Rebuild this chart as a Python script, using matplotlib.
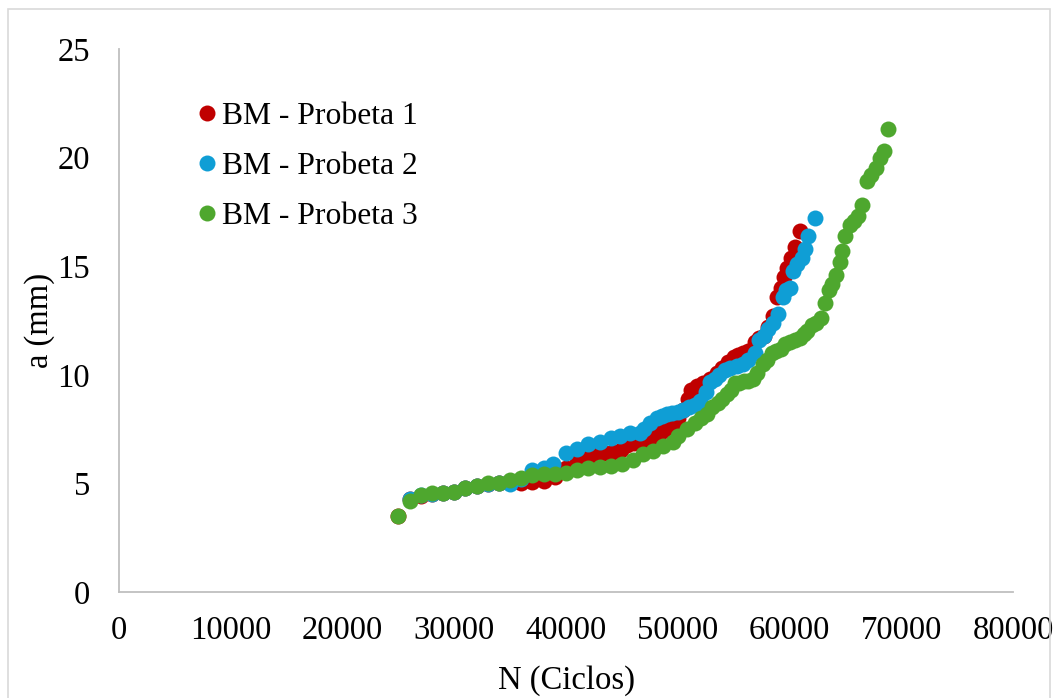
import matplotlib.pyplot as plt
from matplotlib.patches import Rectangle

# ==============================
# DATA
# ==============================
red_N = [25000, 26000, 27000, 28000, 29000, 30000, 31000, 32000, 33000, 34000,
         35000, 36000, 37000, 38000, 39000, 40000, 41000, 42000, 42800, 43500,
         44200, 44900, 45500, 46100, 46600, 47200, 47800, 48300, 48700, 49200,
         49600, 50000, 50500, 50900, 51200, 51700, 52300, 52900, 53500, 54000,
         54500, 55000, 55400, 55800, 56300, 56900, 57300, 57700, 58100, 58500,
         58900, 59200, 59500, 59800, 60100, 60500, 60900]
red_a = [3.5, 4.3, 4.4, 4.5, 4.55, 4.6, 4.8, 4.9, 4.95, 5.0,
         5.0, 5.0, 5.05, 5.1, 5.3, 5.7, 6.0, 6.2, 6.3, 6.4,
         6.45, 6.55, 6.75, 6.85, 6.9, 7.0, 7.1, 7.3, 7.4, 7.6,
         7.7, 8.0, 8.4, 8.9, 9.3, 9.5, 9.6, 9.8, 10.1, 10.3,
         10.6, 10.8, 10.9, 11.0, 11.1, 11.5, 11.7, 11.8, 12.2, 12.7,
         13.6, 14.0, 14.5, 14.9, 15.4, 15.9, 16.6]

blue_N = [26000, 27000, 28000, 29000, 30000, 31000, 32000, 33000, 34000, 35000,
          36000, 37000, 38000, 38800, 40000, 41000, 42000, 43000, 44000, 44800,
          45700, 46600, 47000, 47500, 48100, 48600, 49000, 49500, 50000, 50500,
          51000, 51500, 52000, 52500, 52900, 53300, 53700, 54200, 54700, 55300,
          55800, 56300, 56900, 57300, 57700, 58100, 58500, 59000, 59400, 59700,
          60000, 60300, 60700, 61100, 61400, 61700, 62300]
blue_a = [4.3, 4.45, 4.5, 4.55, 4.6, 4.8, 4.9, 4.95, 5.0, 4.95,
          5.2, 5.6, 5.7, 5.9, 6.4, 6.6, 6.8, 6.9, 7.1, 7.2,
          7.3, 7.3, 7.5, 7.8, 8.0, 8.1, 8.2, 8.25, 8.3, 8.4,
          8.5, 8.6, 8.8, 9.2, 9.65, 9.8, 10.0, 10.2, 10.3, 10.4,
          10.5, 10.7, 11.0, 11.6, 11.8, 12.1, 12.4, 12.8, 13.6, 13.9,
          14.0, 14.8, 15.1, 15.4, 15.8, 16.4, 17.2]

green_N = [25000, 26000, 27000, 28000, 29000, 30000, 31000, 32000, 33000, 34000,
           35000, 36000, 37000, 38000, 39000, 40000, 41000, 42000, 43000, 44000,
           45000, 46000, 46900, 47800, 48700, 49600, 50000, 50800, 51500, 52100,
           52600, 53100, 53600, 54000, 54400, 54800, 55100, 55500, 55900, 56300,
           56700, 57100, 57600, 58000, 58400, 58800, 59200, 59600, 60000, 60500,
           60900, 61300, 61600, 62000, 62400, 62800, 63200, 63500, 63800, 64200,
           64500, 64700, 65000, 65400, 65800, 66100, 66500, 66900, 67300, 67700,
           68100, 68500, 68800]
green_a = [3.5, 4.2, 4.45, 4.55, 4.55, 4.6, 4.8, 4.9, 5.0, 5.0,
           5.15, 5.25, 5.4, 5.45, 5.45, 5.5, 5.6, 5.7, 5.75, 5.8,
           5.9, 6.1, 6.35, 6.5, 6.7, 6.9, 7.2, 7.5, 7.8, 8.0,
           8.2, 8.5, 8.7, 8.9, 9.1, 9.3, 9.6, 9.6, 9.7, 9.7,
           9.8, 10.1, 10.5, 10.7, 11.0, 11.1, 11.2, 11.4, 11.5, 11.6,
           11.7, 11.9, 12.0, 12.3, 12.4, 12.6, 13.3, 13.9, 14.2, 14.6,
           15.2, 15.7, 16.4, 16.9, 17.1, 17.3, 17.8, 18.9, 19.2, 19.5,
           20.0, 20.3, 21.3]

labels = ["BM - Probeta 1", "BM - Probeta 2", "BM - Probeta 3"]
colors = ["#C00000", "#0F9ED5", "#4EA72E"]

x_ticks = [0, 10000, 20000, 30000, 40000, 50000, 60000, 70000, 80000]
y_ticks = [0, 5, 10, 15, 20, 25]

# ==============================
# PLOTTING
# ==============================
plt.rcParams['font.family'] = ['Liberation Serif', 'DejaVu Serif']
FS = 23.5

fig = plt.figure(figsize=(10.59, 6.98), dpi=100)
ax = fig.add_axes([119/1059, 1 - 592/698, (1013-119)/1059, (592-49)/698])

series = [(red_N, red_a), (blue_N, blue_a), (green_N, green_a)]
for (n, a), lab, col in zip(series, labels, colors):
    ax.plot(n, a, 'o', color=col, markersize=11.5, markeredgewidth=0, label=lab)

ax.set_xlim(0, 80000)
ax.set_ylim(0, 25)
ax.set_xticks(x_ticks)
ax.set_yticks(y_ticks)
ax.tick_params(length=0, labelsize=FS)
ax.tick_params(axis='x', pad=17)
ax.tick_params(axis='y', pad=21)

for s in ['top', 'right']:
    ax.spines[s].set_visible(False)
for s in ['left', 'bottom']:
    ax.spines[s].set_color('#bfbfbf')
    ax.spines[s].set_linewidth(1.3)

ax.set_xlabel("N (Ciclos)", fontsize=FS, labelpad=14)
ax.set_ylabel("a (mm)", fontsize=FS, va='center')
ax.yaxis.set_label_coords((40 - 119) / 894, 0.5)

ax.legend(loc='upper left', bbox_to_anchor=(199/1059, 1 - 102/698),
          bbox_transform=fig.transFigure, frameon=False, fontsize=22.8,
          handlelength=0.5, handletextpad=0.22, borderpad=0, borderaxespad=0,
          labelspacing=0.66)

# light border round the whole chart
fig.patches.append(Rectangle((8/1059, -0.01), (1050-8)/1059, (698-9)/698 + 0.01,
                             transform=fig.transFigure, fill=False,
                             edgecolor='#d9d9d9', linewidth=1.2))

fig.savefig("out.png", dpi=100)
